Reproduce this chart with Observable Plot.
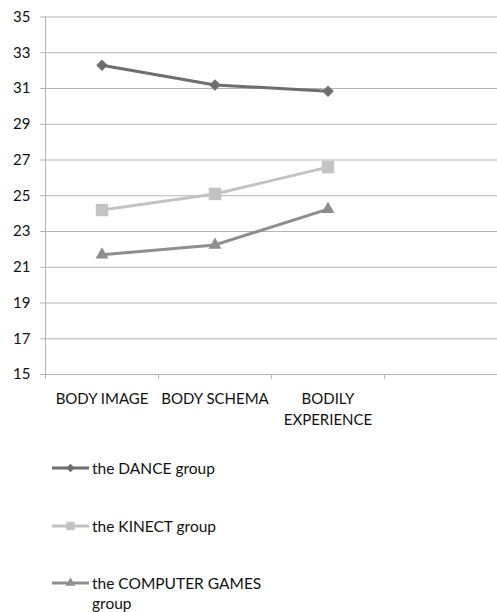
<!DOCTYPE html>
<html><head><meta charset="utf-8">
<script src="https://cdn.jsdelivr.net/npm/d3@7"></script>
<script src="https://cdn.jsdelivr.net/npm/@observablehq/plot@0.6"></script>
<style>
body{margin:0;background:#fff;font-family:Lato,"Open Sans",sans-serif;}
#wrap{position:relative;width:497px;height:612px;overflow:hidden;}
#chart svg{display:block;}
#legend{position:absolute;left:52px;top:458px;}
.item{display:flex;align-items:flex-start;height:57.5px;font-size:15.5px;line-height:20px;color:#111;}
.item svg{flex:none;margin-right:3px;}
.item span{max-width:185px;}
</style>
</head><body>
<div id="wrap"><div id="chart"></div><div id="legend"></div></div>
<script>
const categories = ["BODY IMAGE", "BODY SCHEMA", "BODILY EXPERIENCE"];
const categoryLabels = ["BODY IMAGE", "BODY SCHEMA", "BODILY\nEXPERIENCE"];
const groups = ["the DANCE group", "the KINECT group", "the COMPUTER GAMES group"];
const danceValues = [32.3, 31.2, 30.85];
const kinectValues = [24.2, 25.1, 26.6];
const computerValues = [21.7, 22.25, 24.25];
const yTicks = [15, 17, 19, 21, 23, 25, 27, 29, 31, 33, 35];

const series = [danceValues, kinectValues, computerValues];
const colors = ["#6e6e6e", "#c3c3c3", "#8e8e8e"];
const symbols = ["diamond2", "square", "triangle"];
const radii = [5.2, 7, 4.8];
const gridColor = "#b4b4b4";
const slots = categories.length + 1;

const rows = groups.flatMap((g, gi) => categories.map((c, ci) => ({group: g, gi, ci, value: series[gi][ci]})));

const marks = [
  Plot.gridY(yTicks, {stroke: gridColor, strokeOpacity: 1, strokeWidth: 1}),
  Plot.axisY(yTicks, {tickSize: 5, tickPadding: 10, stroke: gridColor, fill: "#111", fontSize: 15, label: null}),
  Plot.ruleX([0], {stroke: gridColor, strokeWidth: 1}),
  Plot.axisX(d3.range(slots), {tickSize: 5, stroke: gridColor, tickFormat: () => "", label: null}),
  Plot.axisX(categories.map((c, i) => i + 0.5), {tickSize: 0, tickPadding: 15, fill: "#111", fontSize: 15, lineHeight: 1.4, tickFormat: d => categoryLabels[Math.floor(d)], label: null})
];
groups.forEach((g, gi) => {
  const data = rows.filter(r => r.gi === gi);
  marks.push(Plot.line(data, {x: d => d.ci + 0.5, y: "value", stroke: colors[gi], strokeWidth: 3}));
  marks.push(Plot.dot(data, {x: d => d.ci + 0.5, y: "value", symbol: symbols[gi], r: radii[gi], fill: colors[gi], stroke: "none"}));
});

const chart = Plot.plot({
  width: 497, height: 440,
  marginLeft: 45, marginRight: 0, marginTop: 16.5, marginBottom: 66,
  style: {fontFamily: "Lato, 'Open Sans', sans-serif", fontSize: "15px", background: "#fff"},
  x: {domain: [0, slots], axis: null},
  y: {domain: [15, 35], axis: null},
  marks
});
document.getElementById("chart").appendChild(chart);

const legend = document.getElementById("legend");
const legendR = [3.8, 4.8, 3.6];
groups.forEach((g, gi) => {
  const item = document.createElement("div");
  item.className = "item";
  const sym = {diamond2: d3.symbolDiamond2, square: d3.symbolSquare, triangle: d3.symbolTriangle}[symbols[gi]];
  const path = d3.symbol(sym, Math.PI * legendR[gi] * legendR[gi])();
  item.innerHTML = `<svg width="37" height="20"><line x1="0" x2="37" y1="10" y2="10" stroke="${colors[gi]}" stroke-width="3"/><path transform="translate(18.5,10)" d="${path}" fill="${colors[gi]}"/></svg><span>${g}</span>`;
  legend.appendChild(item);
});
</script>
</body></html>
